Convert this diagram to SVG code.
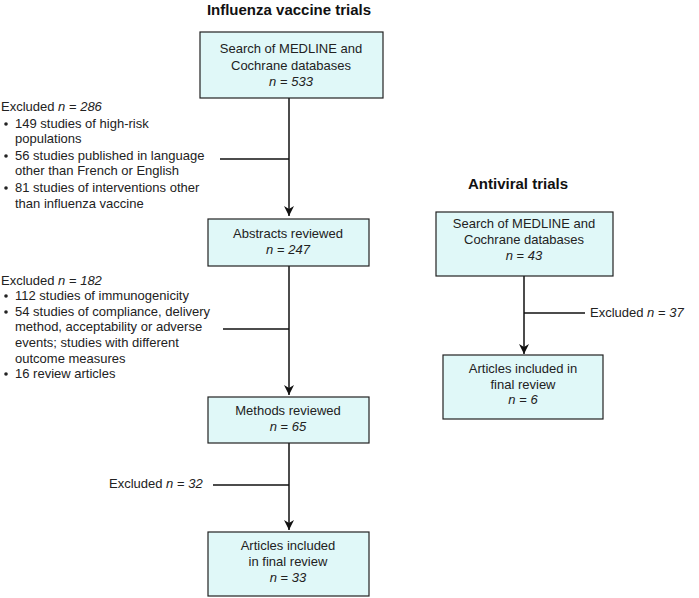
<svg xmlns="http://www.w3.org/2000/svg" width="699" height="598" viewBox="0 0 699 598">
<style>
text{font-family:"Liberation Sans","DejaVu Sans",sans-serif;font-size:13px;fill:#222}
.t{font-size:15px;font-weight:bold;fill:#111}
.c{text-anchor:middle}
.box{fill:#e0f8f8;stroke:#222;stroke-width:1.2}
.ln{stroke:#111;stroke-width:1.5;fill:none}
.arr{stroke:#111;stroke-width:1.5;fill:none;marker-end:url(#ah)}
.b{fill:#222}
</style>
<defs>
<marker id="ah" markerWidth="12" markerHeight="12" refX="10" refY="5" orient="auto" markerUnits="userSpaceOnUse">
<path d="M0,0 L10,5 L0,10 L3,5 Z" fill="#111"/>
</marker>
</defs>
<text class="t c" x="289" y="15">Influenza vaccine trials</text>
<text class="t c" x="518" y="189">Antiviral trials</text>

<g id="connectors">
<line class="arr" x1="289" y1="98" x2="289" y2="216"/>
<line class="ln" x1="220" y1="159" x2="289" y2="159"/>
<line class="arr" x1="289" y1="266" x2="289" y2="395"/>
<line class="ln" x1="223" y1="329" x2="289" y2="329"/>
<line class="arr" x1="289" y1="443" x2="289" y2="530"/>
<line class="ln" x1="213" y1="485" x2="289" y2="485"/>
<line class="arr" x1="524" y1="276" x2="524" y2="354"/>
<line class="ln" x1="524" y1="313" x2="585" y2="313"/>
</g>

<g id="n1">
<rect class="box" x="200" y="32" width="183" height="66"/>
<text class="c" x="291" y="53">Search of MEDLINE and</text>
<text class="c" x="291" y="70">Cochrane databases</text>
<text class="c" x="291" y="86"><tspan font-style="italic">n</tspan> = <tspan font-style="italic">533</tspan></text>
</g>

<g id="ex1">
<text x="1" y="111">Excluded <tspan font-style="italic">n</tspan> = <tspan font-style="italic">286</tspan></text>
<circle class="b" cx="6" cy="124" r="1.8"/>
<text x="15" y="128">149 studies of high-risk</text>
<text x="15" y="143">populations</text>
<circle class="b" cx="6" cy="156" r="1.8"/>
<text x="15" y="160">56 studies published in language</text>
<text x="15" y="175">other than French or English</text>
<circle class="b" cx="6" cy="188" r="1.8"/>
<text x="15" y="192">81 studies of interventions other</text>
<text x="15" y="208">than influenza vaccine</text>
</g>

<g id="n2">
<rect class="box" x="208" y="219" width="161" height="47"/>
<text class="c" x="288" y="238">Abstracts reviewed</text>
<text class="c" x="288" y="254"><tspan font-style="italic">n</tspan> = <tspan font-style="italic">247</tspan></text>
</g>

<g id="ex2">
<text x="1" y="285">Excluded <tspan font-style="italic">n</tspan> = <tspan font-style="italic">182</tspan></text>
<circle class="b" cx="6" cy="296" r="1.8"/>
<text x="15" y="300">112 studies of immunogenicity</text>
<circle class="b" cx="6" cy="312" r="1.8"/>
<text x="15" y="316">54 studies of compliance, delivery</text>
<text x="15" y="331">method, acceptability or adverse</text>
<text x="15" y="347">events; studies with different</text>
<text x="15" y="363">outcome measures</text>
<circle class="b" cx="6" cy="374" r="1.8"/>
<text x="15" y="378">16 review articles</text>
</g>

<g id="n3">
<rect class="box" x="208" y="397" width="161" height="46"/>
<text class="c" x="288" y="415">Methods reviewed</text>
<text class="c" x="288" y="431"><tspan font-style="italic">n</tspan> = <tspan font-style="italic">65</tspan></text>
</g>

<g id="ex3">
<text x="109" y="488">Excluded <tspan font-style="italic">n</tspan> = <tspan font-style="italic">32</tspan></text>
</g>

<g id="n4">
<rect class="box" x="208" y="532" width="161" height="64"/>
<text class="c" x="288" y="550">Articles included</text>
<text class="c" x="288" y="566">in final review</text>
<text class="c" x="288" y="582"><tspan font-style="italic">n</tspan> = <tspan font-style="italic">33</tspan></text>
</g>

<g id="a1">
<rect class="box" x="436" y="212" width="177" height="64"/>
<text class="c" x="524" y="228">Search of MEDLINE and</text>
<text class="c" x="524" y="244">Cochrane databases</text>
<text class="c" x="524" y="260"><tspan font-style="italic">n</tspan> = <tspan font-style="italic">43</tspan></text>
</g>

<g id="ex4">
<text x="590" y="317">Excluded <tspan font-style="italic">n</tspan> = <tspan font-style="italic">37</tspan></text>
</g>

<g id="a2">
<rect class="box" x="443" y="355" width="160" height="64"/>
<text class="c" x="523" y="373">Articles included in</text>
<text class="c" x="523" y="389">final review</text>
<text class="c" x="523" y="404"><tspan font-style="italic">n</tspan> = <tspan font-style="italic">6</tspan></text>
</g>
</svg>
